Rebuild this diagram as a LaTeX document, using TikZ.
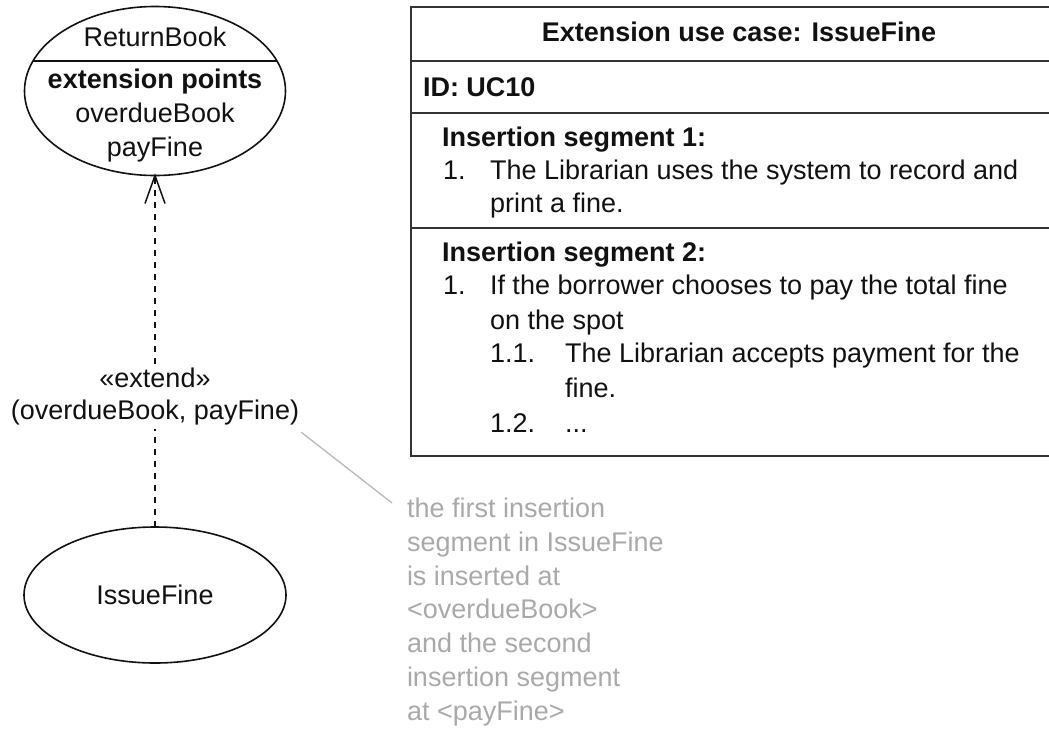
\documentclass[tikz,border=0pt]{standalone}
\usepackage{fontspec}
\setmainfont{Liberation Sans}
\usetikzlibrary{shapes.geometric}
\definecolor{ink}{HTML}{111111}
\definecolor{gridgray}{HTML}{333333}
\definecolor{notegray}{HTML}{A9A9A9}
\definecolor{leadergray}{HTML}{B8B8B8}
\begin{document}
\begin{tikzpicture}[x=1pt,y=-1pt,
  every node/.style={inner sep=0pt, outer sep=0pt},
  body/.style={font=\fontsize{27}{32}\selectfont, text=ink},
  bodyb/.style={font=\fontsize{27}{32}\selectfont\bfseries, text=ink},
  usecase/.style={ellipse, draw=ink, line width=1.6pt},
  dep/.style={draw=ink, line width=1.8pt, dash pattern=on 6pt off 6pt},
  note/.style={font=\fontsize{27}{33.8}\selectfont, text=notegray, align=left},
  gridline/.style={draw=gridgray, line width=2pt}]
\useasboundingbox (0,0) rectangle (1049,729);

% use case ReturnBook with its extension points compartment
\node[usecase, minimum width=261pt, minimum height=169pt] (rb) at (155,91) {};
\draw[ink, line width=1.6pt] (33,61) -- (277,61);
\node[body,  anchor=base] (rbname) at (155,46.5) {ReturnBook};
\node[bodyb, anchor=base] (rbext)  at (155,88.5) {extension points};
\node[body,  anchor=base] (rbep1)  at (155,122.5) {overdueBook};
\node[body,  anchor=base] (rbep2)  at (155,156) {payFine};

% extending use case
\node[usecase, body, minimum width=262pt, minimum height=136pt] (ifn) at (155,595) {IssueFine};

% extend relationship with its label
\node[body, align=center, fill=white, inner ysep=4pt] (ext) at (155,396.5)
  {«extend»\\(overdueBook, payFine)};
\draw[dep] (ifn.north) -- (ext.south);
\draw[dep] (ext.north) -- (rb.south);
\draw[ink, line width=1.5pt, line join=miter]
  ([shift={(-10,28)}]rb.south) -- (rb.south) -- ([shift={(10,28)}]rb.south);

% comment on the extension points
\node[note, anchor=north west] (cmt) at (407,498)
  {the first insertion\\segment in IssueFine\\is inserted at\\<overdueBook>\\and the second\\insertion segment\\at <payFine>};
\coordinate (la) at ([shift={(2,3)}]ext.south east);
\coordinate (lb) at ([shift={(-15,5)}]cmt.north west);
\draw[leadergray, line width=1.3pt] (la) -- (lb);

% extension use case description table
\draw[gridline] (1049,7) -- (411,7) -- (411,456) -- (1049,456);
\draw[gridline] (411,61) -- (1049,61);
\draw[gridline] (411,113) -- (1049,113);
\draw[gridline] (411,228) -- (1049,228);

\node[bodyb, anchor=base] (thead) at (739,41.5) {Extension use case: IssueFine};
\node[bodyb, anchor=base west] (tid) at (423,96.5) {ID: UC10};

\node[bodyb, anchor=base west] (s1) at (442,146.5) {Insertion segment 1:};
\node[body, anchor=base west] (s1n) at (443,179.5) {1.};
\node[body, anchor=base west] (s1a) at (490,179.5) {The Librarian uses the system to record and};
\node[body, anchor=base west] (s1b) at (490,212.5) {print a fine.};

\node[bodyb, anchor=base west] (s2) at (442,261.5) {Insertion segment 2:};
\node[body, anchor=base west] (s2n) at (443,294.5) {1.};
\node[body, anchor=base west] (s2a) at (490,294.5) {If the borrower chooses to pay the total fine};
\node[body, anchor=base west] (s2b) at (490,329.5) {on the spot};
\node[body, anchor=base west] (s2c) at (490,362.5) {1.1.};
\node[body, anchor=base west] (s2d) at (565,362.5) {The Librarian accepts payment for the};
\node[body, anchor=base west] (s2e) at (565,397.5) {fine.};
\node[body, anchor=base west] (s2f) at (490,432.5) {1.2.};
\node[body, anchor=base west] (s2g) at (565,432.5) {...};
\end{tikzpicture}
\end{document}
